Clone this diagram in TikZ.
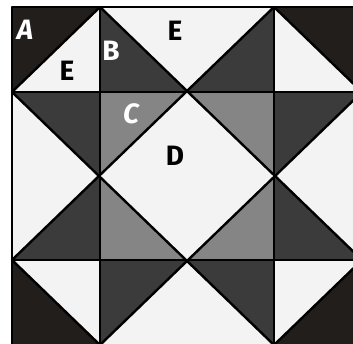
\documentclass[tikz,border=0pt]{standalone}
\usepackage{fontspec}
\setmainfont{Fira Sans}
\definecolor{cA}{HTML}{221E1C}
\definecolor{cB}{HTML}{3C3B3B}
\definecolor{cC}{HTML}{858585}
\definecolor{cE}{HTML}{F3F3F3}
\begin{document}
\begin{tikzpicture}[x=1pt,y=-1pt,
  seam/.style={draw=black,line width=2.4pt,line cap=round,line join=round},
  lbl/.style={font=\fontsize{28}{30}\selectfont\bfseries,inner sep=0pt},
  wl/.style={lbl,text=white},
  bl/.style={lbl,text=black}]
\useasboundingbox (0,0) rectangle (353,344);
\clip (0,0) rectangle (353,344);
\fill[white] (0,0) rectangle (353,344);
% grid coordinates
\def\xa{12}\def\xb{100}\def\xc{187}\def\xd{274}\def\xe{362}
\def\ya{7}\def\yb{92}\def\yc{176}\def\yd{260}\def\ye{345}
\fill[cE] (\xa,\ya) rectangle (\xe,\ye);
% A: black corners
\fill[cA] (\xa,\ya) -- (\xb,\ya) -- (\xa,\yb) -- cycle;
\fill[cA] (\xd,\ya) -- (\xe,\ya) -- (\xe,\yb) -- cycle;
\fill[cA] (\xa,\yd) -- (\xa,\ye) -- (\xb,\ye) -- cycle;
\fill[cA] (\xe,\yd) -- (\xe,\ye) -- (\xd,\ye) -- cycle;
% B: dark grey
\fill[cB] (\xb,\ya) -- (\xb,\yb) -- (\xc,\yb) -- cycle;
\fill[cB] (\xd,\ya) -- (\xd,\yb) -- (\xc,\yb) -- cycle;
\fill[cB] (\xa,\yb) -- (\xb,\yb) -- (\xb,\yc) -- cycle;
\fill[cB] (\xe,\yb) -- (\xd,\yb) -- (\xd,\yc) -- cycle;
\fill[cB] (\xa,\yd) -- (\xb,\yd) -- (\xb,\yc) -- cycle;
\fill[cB] (\xe,\yd) -- (\xd,\yd) -- (\xd,\yc) -- cycle;
\fill[cB] (\xb,\ye) -- (\xb,\yd) -- (\xc,\yd) -- cycle;
\fill[cB] (\xd,\ye) -- (\xd,\yd) -- (\xc,\yd) -- cycle;
% C: medium grey
\fill[cC] (\xb,\yb) -- (\xc,\yb) -- (\xb,\yc) -- cycle;
\fill[cC] (\xd,\yb) -- (\xc,\yb) -- (\xd,\yc) -- cycle;
\fill[cC] (\xb,\yd) -- (\xc,\yd) -- (\xb,\yc) -- cycle;
\fill[cC] (\xd,\yd) -- (\xc,\yd) -- (\xd,\yc) -- cycle;
% seams
\draw[seam] (\xa,\ya) rectangle (\xe,\ye);
\draw[seam] (\xa,\yb) -- (\xe,\yb);
\draw[seam] (\xa,\yd) -- (\xe,\yd);
\draw[seam] (\xb,\ya) -- (\xb,\ye);
\draw[seam] (\xd,\ya) -- (\xd,\ye);
\draw[seam] (\xa,\yb) -- (\xb,\ya);
\draw[seam] (\xd,\ya) -- (\xe,\yb);
\draw[seam] (\xa,\yd) -- (\xb,\ye);
\draw[seam] (\xd,\ye) -- (\xe,\yd);
\draw[seam] (\xb,\ya) -- (\xe,\yd);
\draw[seam] (\xd,\ya) -- (\xa,\yd);
\draw[seam] (\xa,\yb) -- (\xd,\ye);
\draw[seam] (\xe,\yb) -- (\xb,\ye);
% labels
\node[wl] (lA) at (25,30) {\itshape A};
\node[bl] (lE1) at (67,71) {E};
\node[wl] (lB) at (111,51) {B};
\node[bl] (lE2) at (175,31) {E};
\node[wl] (lC) at (131,114) {\itshape C};
\node[bl] (lD) at (175,156) {D};
\end{tikzpicture}
\end{document}
